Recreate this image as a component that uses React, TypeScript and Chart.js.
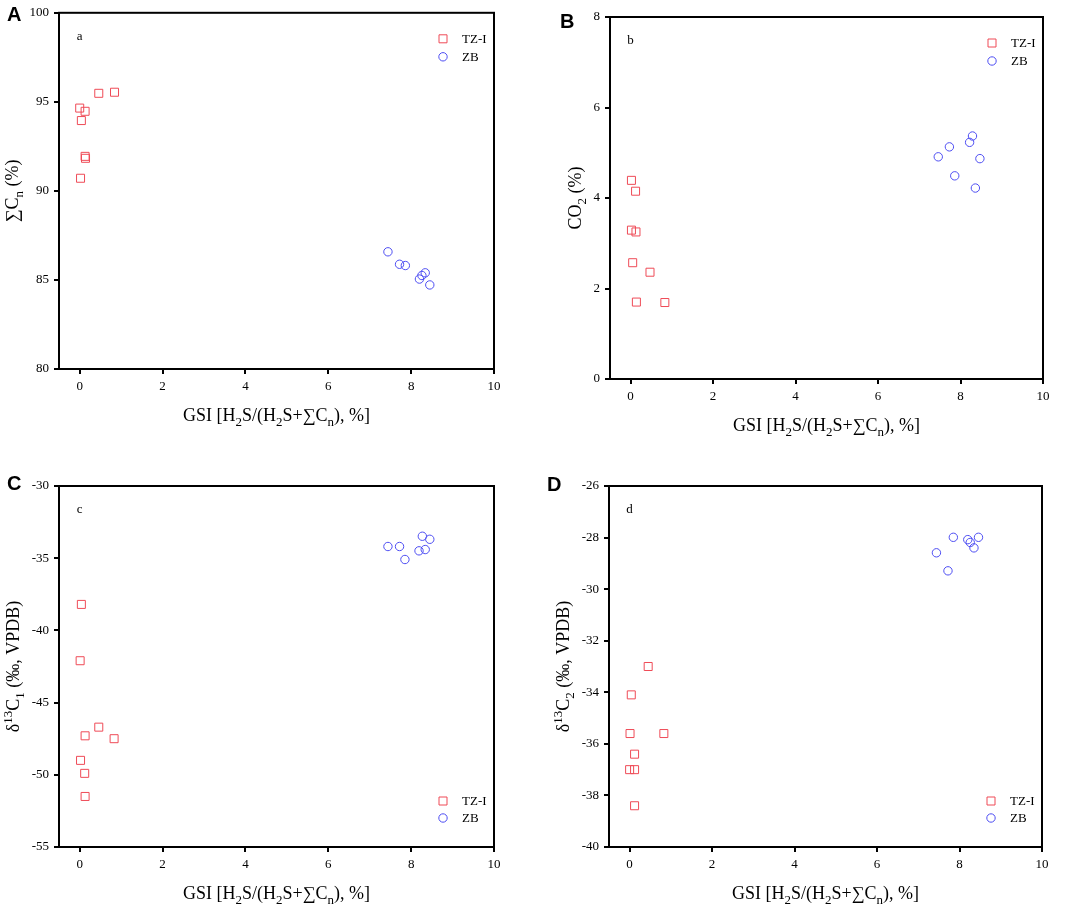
import { useEffect, useRef } from "react";
import { Chart, registerables } from "chart.js";

Chart.register(...registerables);

// shared x axis (GSI, %)
const gsiTicks = [0, 2, 4, 6, 8, 10];

// a: sum Cn (%)
const aTicks = [80, 85, 90, 95, 100];
const aTzX = [0.0, 0.13, 0.04, 0.46, 0.84, 0.13, 0.14, 0.02];
const aTzY = [94.65, 94.47, 93.95, 95.48, 95.54, 91.94, 91.83, 90.71];
const aZbX = [7.44, 7.72, 7.86, 8.2, 8.26, 8.34, 8.45];
const aZbY = [86.58, 85.88, 85.81, 85.05, 85.25, 85.4, 84.72];

// b: CO2 (%)
const bTicks = [0, 2, 4, 6, 8];
const bTzX = [0.02, 0.12, 0.02, 0.13, 0.05, 0.47, 0.14, 0.83];
const bTzY = [4.39, 4.15, 3.29, 3.25, 2.57, 2.36, 1.7, 1.69];
const bZbX = [7.46, 7.73, 7.86, 8.22, 8.29, 8.36, 8.47];
const bZbY = [4.91, 5.13, 4.49, 5.23, 5.37, 4.22, 4.87];

// c: d13C1
const cTicks = [-55, -50, -45, -40, -35, -30];
const cTzX = [0.04, 0.01, 0.13, 0.46, 0.83, 0.02, 0.12, 0.13];
const cTzY = [-38.2, -42.1, -47.3, -46.7, -47.5, -49.0, -49.9, -51.5];
const cZbX = [7.44, 7.72, 7.85, 8.19, 8.27, 8.34, 8.45];
const cZbY = [-34.19, -34.19, -35.09, -34.49, -33.48, -34.4, -33.69];

// d: d13C2
const dTicks = [-40, -38, -36, -34, -32, -30, -28, -26];
const dTzX = [0.04, 0.01, 0.83, 0.12, 0.0, 0.12, 0.12, 0.45];
const dTzY = [-34.1, -35.6, -35.6, -36.4, -37.0, -37.0, -38.4, -33.0];
const dZbX = [7.44, 7.72, 7.85, 8.2, 8.26, 8.35, 8.46];
const dZbY = [-28.59, -29.29, -27.99, -28.08, -28.19, -28.4, -27.99];

const seriesNames = ["TZ-I", "ZB"];

const RED = "#ef4b57";
const BLUE = "#4d4df2";
const SERIF = '"Liberation Serif", "Times New Roman", serif';
const SANS = '"Liberation Sans", Arial, sans-serif';

type Seg = { t: string; s?: "sub" | "sup" };

const gsiTitle: Seg[] = [
  { t: "GSI [H" },
  { t: "2", s: "sub" },
  { t: "S/(H" },
  { t: "2", s: "sub" },
  { t: "S+∑C" },
  { t: "n", s: "sub" },
  { t: "), %]" },
];

const drawRich = (ctx: CanvasRenderingContext2D, segs: Seg[], cx: number, cy: number, size: number) => {
  const small = size * 0.72;
  const widths = segs.map((sg) => {
    ctx.font = `${sg.s ? small : size}px ${SERIF}`;
    return ctx.measureText(sg.t).width;
  });
  const total = widths.reduce((p, w) => p + w, 0);
  let x = cx - total / 2;
  const base = cy + size * 0.35;
  ctx.textAlign = "left";
  ctx.textBaseline = "alphabetic";
  segs.forEach((sg, i) => {
    ctx.font = `${sg.s ? small : size}px ${SERIF}`;
    const dy = sg.s === "sub" ? size * 0.25 : sg.s === "sup" ? -size * 0.38 : 0;
    ctx.fillText(sg.t, x, base + dy);
    x += widths[i];
  });
};

const drawMarker = (ctx: CanvasRenderingContext2D, kind: string, x: number, y: number) => {
  ctx.lineWidth = 1;
  ctx.beginPath();
  if (kind === "rect") {
    ctx.strokeStyle = RED;
    ctx.rect(x - 4, y - 4, 8, 8);
  } else {
    ctx.strokeStyle = BLUE;
    ctx.arc(x, y, 4.2, 0, Math.PI * 2);
  }
  ctx.stroke();
};

const panelDecor = {
  id: "panelDecor",
  afterDraw(chart: any, _args: any, opts: any) {
    const { ctx, chartArea: a, scales } = chart;
    ctx.save();
    ctx.strokeStyle = "#000";
    ctx.lineWidth = 2;
    ctx.strokeRect(a.left, a.top, a.right - a.left, a.bottom - a.top);

    // panel letter
    ctx.fillStyle = "#000";
    ctx.font = `bold 20px ${SANS}`;
    ctx.textAlign = "left";
    ctx.textBaseline = "alphabetic";
    ctx.fillText(opts.letter, opts.letterX, opts.letterY);

    // inner tag
    ctx.font = `13px ${SERIF}`;
    ctx.textAlign = "center";
    ctx.textBaseline = "middle";
    ctx.fillText(opts.tag, scales.x.getPixelForValue(0), a.top + 24);

    // legend
    const rows = opts.legendBottom ? [a.bottom - 46, a.bottom - 29] : [a.top + 26, a.top + 44];
    seriesNames.forEach((name, i) => {
      drawMarker(ctx, i === 0 ? "rect" : "circle", a.right - 51, rows[i]);
      ctx.fillStyle = "#000";
      ctx.font = `13px ${SERIF}`;
      ctx.textAlign = "left";
      ctx.textBaseline = "middle";
      ctx.fillText(name, a.right - 32, rows[i] + 1);
    });

    // axis titles
    ctx.fillStyle = "#000";
    drawRich(ctx, gsiTitle, (a.left + a.right) / 2, a.bottom + 46, 18);
    ctx.translate(a.left - opts.yGap, (a.top + a.bottom) / 2);
    ctx.rotate(-Math.PI / 2);
    drawRich(ctx, opts.yTitle, 0, 0, 18);
    ctx.restore();
  },
};

interface PanelProps {
  left: number;
  top: number;
  width: number;
  height: number;
  area: { l: number; t: number; r: number; b: number };
  yTicks: number[];
  tz: [number[], number[]];
  zb: [number[], number[]];
  yTitle: Seg[];
  yGap: number;
  letter: string;
  letterX: number;
  letterY: number;
  tag: string;
  legendBottom?: boolean;
}

const Panel = (p: PanelProps) => {
  const canvasRef = useRef<HTMLCanvasElement>(null);
  const chartInstance = useRef<Chart | null>(null);

  useEffect(() => {
    if (!canvasRef.current) return;
    if (chartInstance.current) chartInstance.current.destroy();

    const toPts = ([xs, ys]: [number[], number[]]) => xs.map((x, i) => ({ x, y: ys[i] }));
    const axisCommon = {
      type: "linear" as const,
      border: { display: true, color: "#000", width: 2 },
      grid: { display: true, drawOnChartArea: false, drawTicks: true, tickLength: 5, color: "#000", lineWidth: 2 },
      ticks: { color: "#000", font: { family: SERIF, size: 13 }, padding: 5 },
    };

    chartInstance.current = new Chart(canvasRef.current, {
      type: "scatter",
      data: {
        datasets: [
          {
            label: seriesNames[0],
            data: toPts(p.tz),
            pointStyle: "rect",
            pointRadius: 5.66,
            backgroundColor: "rgba(0,0,0,0)",
            borderColor: RED,
            borderWidth: 1,
          },
          {
            label: seriesNames[1],
            data: toPts(p.zb),
            pointStyle: "circle",
            pointRadius: 4.2,
            backgroundColor: "rgba(0,0,0,0)",
            borderColor: BLUE,
            borderWidth: 1,
          },
        ],
      },
      options: {
        animation: false,
        responsive: true,
        maintainAspectRatio: false,
        events: [],
        layout: { padding: { top: p.area.t, right: p.width - p.area.r, left: 0, bottom: 0 } },
        scales: {
          x: {
            ...axisCommon,
            min: -0.5,
            max: 10,
            afterBuildTicks: (s: any) => {
              s.ticks = gsiTicks.map((v) => ({ value: v }));
            },
            afterFit: (s: any) => {
              s.height = p.height - p.area.b;
            },
          },
          y: {
            ...axisCommon,
            min: p.yTicks[0],
            max: p.yTicks[p.yTicks.length - 1],
            afterBuildTicks: (s: any) => {
              s.ticks = p.yTicks.map((v) => ({ value: v }));
            },
            afterFit: (s: any) => {
              s.width = p.area.l;
            },
          },
        },
        plugins: {
          legend: { display: false },
          tooltip: { enabled: false },
          panelDecor: {
            letter: p.letter,
            letterX: p.letterX,
            letterY: p.letterY,
            tag: p.tag,
            legendBottom: !!p.legendBottom,
            yTitle: p.yTitle,
            yGap: p.yGap,
          },
        } as any,
      },
      plugins: [panelDecor],
    });

    return () => {
      if (chartInstance.current) {
        chartInstance.current.destroy();
        chartInstance.current = null;
      }
    };
  }, []);

  return (
    <div style={{ position: "absolute", left: p.left, top: p.top, width: p.width, height: p.height }}>
      <canvas ref={canvasRef} />
    </div>
  );
};

export default function App() {
  return (
    <div style={{ position: "absolute", left: 0, top: 0, width: 1072, height: 905, background: "#fff" }}>
      <Panel
        left={0}
        top={0}
        width={536}
        height={452}
        area={{ l: 59, t: 7, r: 494, b: 369 }}
        yTicks={aTicks}
        tz={[aTzX, aTzY]}
        zb={[aZbX, aZbY]}
        yTitle={[{ t: "∑C" }, { t: "n", s: "sub" }, { t: " (%)" }]}
        yGap={47}
        letter="A"
        letterX={7}
        letterY={21}
        tag="a"
      />
      <Panel
        left={536}
        top={0}
        width={536}
        height={452}
        area={{ l: 74, t: 17, r: 507, b: 379 }}
        yTicks={bTicks}
        tz={[bTzX, bTzY]}
        zb={[bZbX, bZbY]}
        yTitle={[{ t: "CO" }, { t: "2", s: "sub" }, { t: " (%)" }]}
        yGap={35}
        letter="B"
        letterX={24}
        letterY={28}
        tag="b"
      />
      <Panel
        left={0}
        top={452}
        width={536}
        height={453}
        area={{ l: 59, t: 34, r: 494, b: 395 }}
        yTicks={cTicks}
        tz={[cTzX, cTzY]}
        zb={[cZbX, cZbY]}
        yTitle={[{ t: "δ" }, { t: "13", s: "sup" }, { t: "C" }, { t: "1", s: "sub" }, { t: " (‰, VPDB)" }]}
        yGap={46}
        letter="C"
        letterX={7}
        letterY={38}
        tag="c"
        legendBottom
      />
      <Panel
        left={536}
        top={452}
        width={536}
        height={453}
        area={{ l: 73, t: 34, r: 506, b: 395 }}
        yTicks={dTicks}
        tz={[dTzX, dTzY]}
        zb={[dZbX, dZbY]}
        yTitle={[{ t: "δ" }, { t: "13", s: "sup" }, { t: "C" }, { t: "2", s: "sub" }, { t: " (‰, VPDB)" }]}
        yGap={46}
        letter="D"
        letterX={11}
        letterY={39}
        tag="d"
        legendBottom
      />
    </div>
  );
}
